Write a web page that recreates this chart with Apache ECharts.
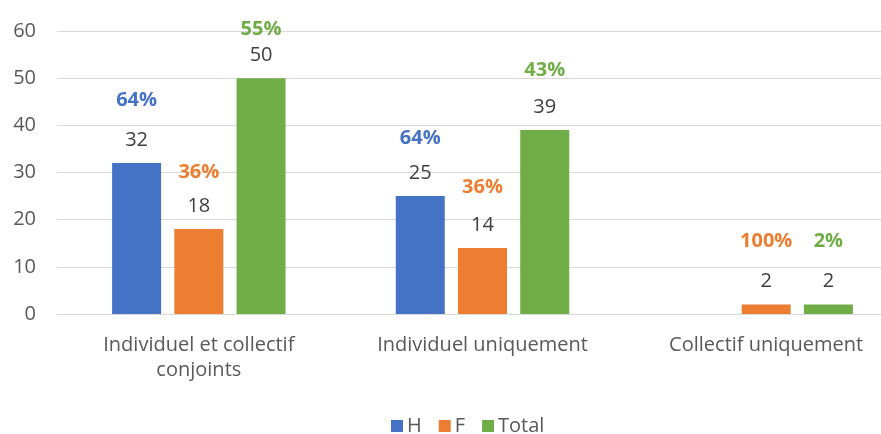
<!DOCTYPE html>
<html>
<head>
<meta charset="utf-8">
<script src="https://cdn.jsdelivr.net/npm/echarts@6/dist/echarts.min.js"></script>
<style>
  html, body { margin: 0; padding: 0; background: #fff; overflow: hidden; }
  #wrap { width: 881px; height: 434px; overflow: hidden; }
  /* the plot runs past the right edge of the view, so the chart is a bit wider than the frame */
  #chart { width: 908px; height: 434px; }
</style>
</head>
<body>
<div id="wrap"><div id="chart"></div></div>
<script>
// Répartition H / F par type d'accompagnement
const categories = ['Individuel et collectif\nconjoints', 'Individuel uniquement', 'Collectif uniquement'];
const seriesNames = ['H', 'F', 'Total'];
const valuesH = [32, 25, 0];
const valuesF = [18, 14, 2];
const valuesTotal = [50, 39, 2];
const pctH = ['64%', '64%', null];
const pctF = ['36%', '36%', '100%'];
const pctTotal = ['55%', '43%', '2%'];
const yTicks = { min: 0, max: 60, interval: 10 };

// Layout: vertical distance (px) between the value label and the percentage above it
const pctGap = [
  [40, 35, 0],
  [34, 38, 40],
  [26, 37, 40]
];
const colors = ['#4472C4', '#ED7D31', '#70AD47'];
const FONT = '"Open Sans", "Noto Sans", sans-serif';
const FS = 20;
const LH = 24;

function buildData(values, pcts, gaps, color) {
  return values.map((v, i) => {
    const p = pcts[i];
    if (p === null) {
      return { value: v, label: { show: false } };
    }
    return {
      value: v,
      label: {
        show: true,
        formatter: '{p|' + p + '}\n{v|' + v + '}',
        rich: {
          p: {
            color: color, fontWeight: 'bold', fontSize: FS, fontFamily: FONT,
            lineHeight: LH, padding: [0, 0, Math.max(2 * (gaps[i] - LH), 0), 0]
          },
          v: { color: '#404040', fontSize: FS, fontFamily: FONT, lineHeight: LH }
        }
      }
    };
  });
}

const allValues = [valuesH, valuesF, valuesTotal];
const allPcts = [pctH, pctF, pctTotal];

const chart = echarts.init(document.getElementById('chart'), null, { renderer: 'canvas' });
chart.setOption({
  animation: false,
  backgroundColor: '#ffffff',
  textStyle: { fontFamily: FONT },
  grid: { left: 57, right: 0, top: 31, bottom: 120, containLabel: false },
  legend: {
    left: 386,
    top: 411,
    itemWidth: 12,
    itemHeight: 12,
    itemGap: 17,
    icon: 'rect',
    textStyle: { color: '#595959', fontSize: FS, fontFamily: FONT, padding: [0, 0, 0, -1] },
    data: seriesNames
  },
  xAxis: {
    type: 'category',
    data: categories,
    axisLine: { lineStyle: { color: '#d9d9d9', width: 1 } },
    axisTick: { show: false },
    axisLabel: { color: '#595959', fontSize: FS, fontFamily: FONT, margin: 19, lineHeight: 25, interval: 0 }
  },
  yAxis: {
    type: 'value',
    min: yTicks.min, max: yTicks.max, interval: yTicks.interval,
    axisLine: { show: false },
    axisTick: { show: false },
    axisLabel: { color: '#595959', fontSize: FS, fontFamily: FONT, margin: 21 },
    splitLine: { lineStyle: { color: '#d9d9d9', width: 1 } }
  },
  series: seriesNames.map((name, s) => ({
    name: name,
    type: 'bar',
    barWidth: 49,
    barGap: '27%',
    itemStyle: { color: colors[s] },
    label: { show: true, position: 'top', distance: 11 },
    data: buildData(allValues[s], allPcts[s], pctGap[s], colors[s])
  }))
});
</script>
</body>
</html>
